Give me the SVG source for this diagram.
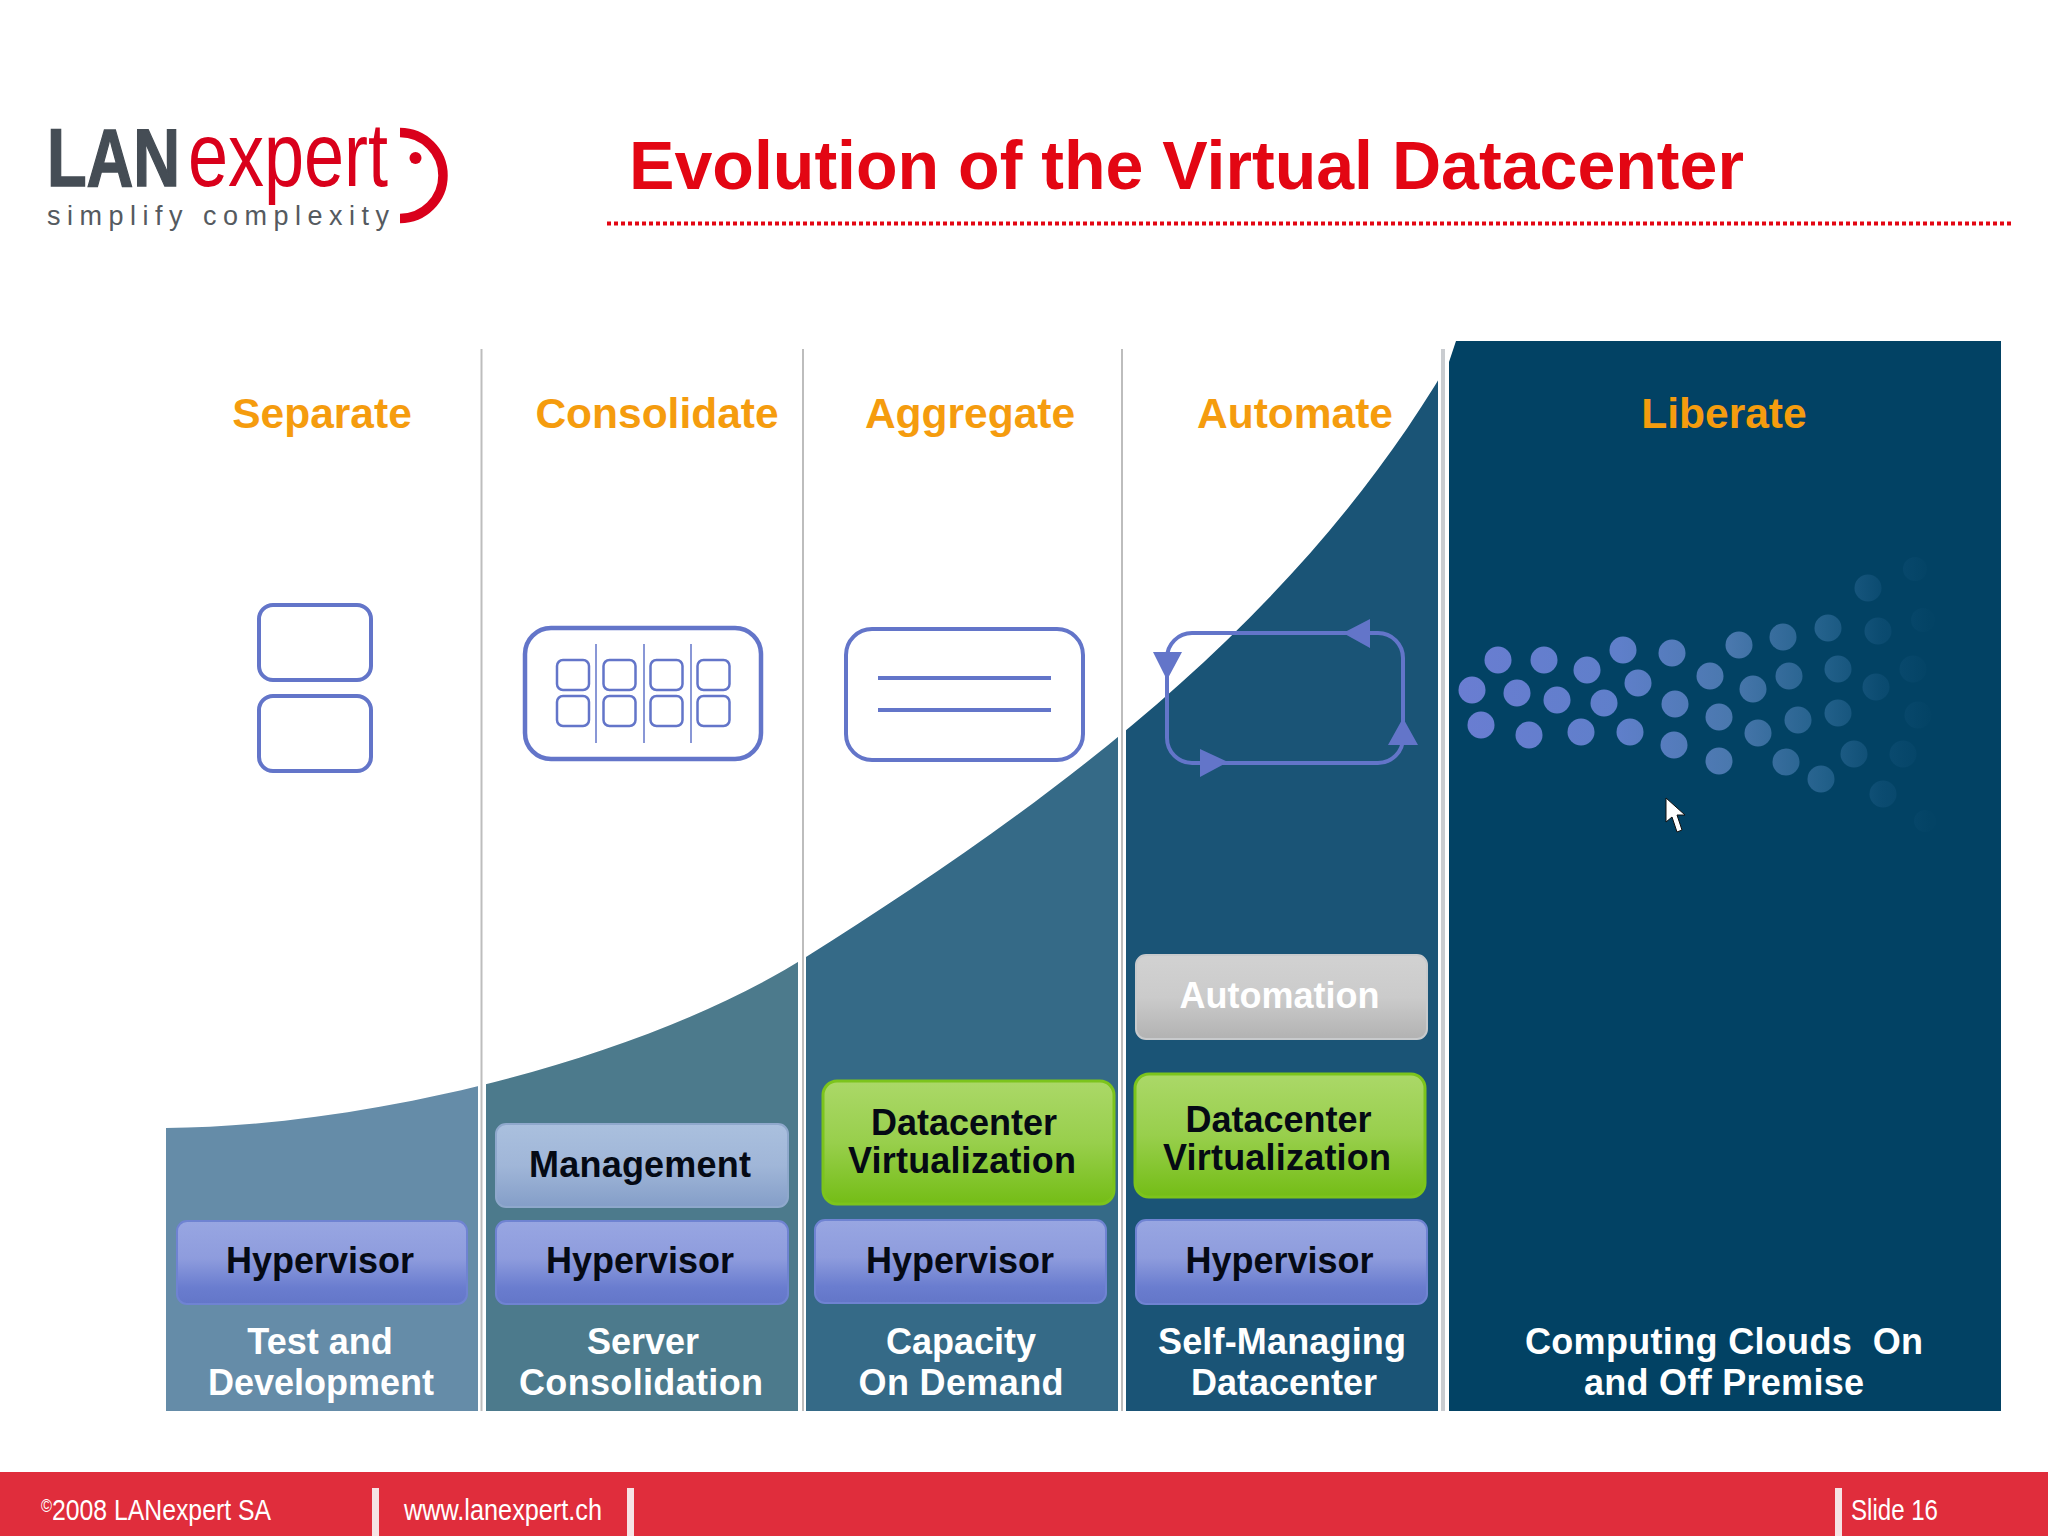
<svg xmlns="http://www.w3.org/2000/svg" width="2048" height="1536" viewBox="0 0 2048 1536">
<style>
text{font-family:"Liberation Sans",Arial,sans-serif}
.h{font-weight:700;font-size:42.5px;fill:#f59c0e;text-anchor:middle}
.b{font-weight:700;font-size:36px;fill:#050a14;text-anchor:middle}
.w{font-weight:700;font-size:36px;fill:#fff;text-anchor:middle;white-space:pre}
.f{font-size:30px;fill:#fff}
.hyp{fill:url(#gh);stroke:#6f83d2;stroke-width:2}
.mg{fill:url(#gm);stroke:#8fa8cc;stroke-width:2}
.dv{fill:url(#gd);stroke:#7cc41c;stroke-width:3}
.au{fill:url(#ga);stroke:#c8cacc;stroke-width:2}
.ic{fill:none;stroke:#6375c9;stroke-width:4}
.ar{fill:#6375c9}
.div{stroke:#bdbdbd;stroke-width:2}
.bar{fill:#f6e3e5}
</style>
<defs>
<linearGradient id="gh" x1="0" y1="0" x2="0" y2="1"><stop offset="0" stop-color="#98a6e2"/><stop offset=".45" stop-color="#8e9cdd"/><stop offset=".8" stop-color="#6a7dcf"/><stop offset="1" stop-color="#6376c8"/></linearGradient>
<linearGradient id="gm" x1="0" y1="0" x2="0" y2="1"><stop offset="0" stop-color="#aac0de"/><stop offset=".5" stop-color="#a0b6d8"/><stop offset="1" stop-color="#849ec8"/></linearGradient>
<linearGradient id="gd" x1="0" y1="0" x2="0" y2="1"><stop offset="0" stop-color="#abd868"/><stop offset=".5" stop-color="#98cf4c"/><stop offset="1" stop-color="#74bd16"/></linearGradient>
<linearGradient id="ga" x1="0" y1="0" x2="0" y2="1"><stop offset="0" stop-color="#d2d2d2"/><stop offset=".5" stop-color="#cbcbcb"/><stop offset="1" stop-color="#b2b2b2"/></linearGradient>
<linearGradient id="gdot" gradientUnits="userSpaceOnUse" x1="1450" y1="0" x2="1930" y2="0"><stop offset="0" stop-color="#6a7dd2"/><stop offset=".35" stop-color="#5f7fca"/><stop offset=".58" stop-color="#4a78ae"/><stop offset=".78" stop-color="#22608a"/><stop offset=".9" stop-color="#0b4b70"/><stop offset="1" stop-color="#034365"/></linearGradient>
<clipPath id="curve"><path d="M166,1128C360,1127 640,1062 806,957C1032,814 1302,627 1461,341H1438V1411H166Z"/></clipPath>
</defs>
<rect width="2048" height="1536" fill="#fff"/>
<g id="logo">
<text transform="translate(47,186) scale(.8,1)" font-size="81" font-weight="700" fill="#454d55" stroke="#454d55" stroke-width="1.500">LAN</text>
<text transform="translate(188,186) scale(.8,1)" font-size="90" fill="#d9001b">expert</text>
<text x="47" y="225" font-size="27" fill="#555a60" textLength="342" lengthAdjust="spacing">simplify complexity</text>
<path d="M400,132.5A43,43 0 0 1 400,218.5" fill="none" stroke="#d9001b" stroke-width="9.500"/>
<circle cx="415.500" cy="158" r="6" fill="#d9001b"/>
</g>
<g id="title">
<text x="629" y="189" font-size="68.100" font-weight="700" fill="#e30613">Evolution of the Virtual Datacenter</text>
<line x1="607" y1="223.500" x2="2012" y2="223.500" stroke="#e30613" stroke-width="4" stroke-dasharray="4 3"/>
</g>
<g id="bands">
<g clip-path="url(#curve)">
<rect x="166" y="341" width="312" height="1070" fill="#658ca8"/>
<rect x="486" y="341" width="312" height="1070" fill="#4c7a8c"/>
<rect x="806" y="341" width="312" height="1070" fill="#356a87"/>
<rect x="1126" y="341" width="312" height="1070" fill="#1a5476"/>
</g>
<path d="M1449,362L1456,341H2001V1411H1449Z" fill="#024264"/>
</g>
<g id="dividers">
<line class="div" x1="481.500" y1="349" x2="481.500" y2="1411"/>
<line class="div" x1="803" y1="349" x2="803" y2="1411"/>
<line class="div" x1="1122" y1="349" x2="1122" y2="1411"/>
<line x1="1443" y1="349" x2="1443" y2="1411" stroke="#c9ccd0" stroke-width="4"/>
</g>
<g id="col-separate">
<text class="h" x="322" y="428">Separate</text>
<g id="icon-separate" class="ic"><rect x="259" y="605" width="112" height="75" rx="14"/><rect x="259" y="696" width="112" height="75" rx="14"/></g>
<g id="hyp1"><rect class="hyp" x="177" y="1221" width="290" height="83" rx="10"/><text class="b" x="320" y="1273">Hypervisor</text></g>
<text class="w" x="320" y="1354">Test and</text>
<text class="w" x="321" y="1395">Development</text>
</g>
<g id="col-consolidate">
<text class="h" x="657" y="428">Consolidate</text>
<g id="icon-consolidate" class="ic">
<rect x="525" y="628" width="236" height="131" rx="26" stroke-width="4.500"/>
<g stroke-width="2.500">
<rect x="557" y="660" width="32" height="30" rx="6"/><rect x="603.500" y="660" width="32" height="30" rx="6"/><rect x="650.500" y="660" width="32" height="30" rx="6"/><rect x="697.500" y="660" width="32" height="30" rx="6"/>
<rect x="557" y="696" width="32" height="30" rx="6"/><rect x="603.500" y="696" width="32" height="30" rx="6"/><rect x="650.500" y="696" width="32" height="30" rx="6"/><rect x="697.500" y="696" width="32" height="30" rx="6"/>
</g>
<path d="M596,644V743M644,644V743M691,644V743" stroke-width="1.500"/>
</g>
<g id="mgmt"><rect class="mg" x="496" y="1124" width="292" height="83" rx="10"/><text class="b" x="640" y="1177" textLength="222">Management</text></g>
<g id="hyp2"><rect class="hyp" x="496" y="1221" width="292" height="83" rx="10"/><text class="b" x="640" y="1273">Hypervisor</text></g>
<text class="w" x="643" y="1354">Server</text>
<text class="w" x="641" y="1395" textLength="244">Consolidation</text>
</g>
<g id="col-aggregate">
<text class="h" x="970" y="428">Aggregate</text>
<g id="icon-aggregate" class="ic"><rect x="846" y="629" width="237" height="131" rx="26"/><path d="M878,678H1051M878,710H1051"/></g>
<g id="dv3"><rect class="dv" x="823" y="1081" width="291" height="123" rx="14"/><text class="b" x="964" y="1135">Datacenter</text><text class="b" x="962" y="1173" textLength="228">Virtualization</text></g>
<g id="hyp3"><rect class="hyp" x="815" y="1220" width="291" height="83" rx="10"/><text class="b" x="960" y="1273">Hypervisor</text></g>
<text class="w" x="961" y="1354">Capacity</text>
<text class="w" x="961" y="1395" textLength="205">On Demand</text>
</g>
<g id="col-automate">
<text class="h" x="1295" y="428">Automate</text>
<g id="icon-automate">
<rect class="ic" x="1167" y="633" width="236" height="130" rx="25"/>
<path class="ar" d="M1153,652H1182L1167,680ZM1343,633L1370,619V648ZM1403,718L1418,745H1388ZM1228,762L1200,777V749Z"/>
</g>
<g id="automation"><rect class="au" x="1136" y="955" width="291" height="84" rx="10"/><text class="w" x="1279.500" y="1008">Automation</text></g>
<g id="dv4"><rect class="dv" x="1135" y="1074" width="290" height="123" rx="14"/><text class="b" x="1278.500" y="1132">Datacenter</text><text class="b" x="1277" y="1170" textLength="228">Virtualization</text></g>
<g id="hyp4"><rect class="hyp" x="1136" y="1220" width="291" height="84" rx="10"/><text class="b" x="1279.500" y="1273">Hypervisor</text></g>
<text class="w" x="1282" y="1354" textLength="248">Self-Managing</text>
<text class="w" x="1284" y="1395">Datacenter</text>
</g>
<g id="col-liberate">
<text class="h" x="1724" y="428">Liberate</text>
<g id="icon-liberate" fill="url(#gdot)">
<circle cx="1472" cy="690" r="13.500"/><circle cx="1498" cy="660" r="13.500"/><circle cx="1544" cy="660" r="13.500"/><circle cx="1517" cy="693" r="13.500"/><circle cx="1557" cy="700" r="13.500"/><circle cx="1587" cy="670" r="13.500"/><circle cx="1481" cy="725" r="13.500"/><circle cx="1529" cy="735" r="13.500"/><circle cx="1581" cy="732" r="13.500"/><circle cx="1630" cy="732" r="13.500"/><circle cx="1623" cy="650" r="13.500"/><circle cx="1672" cy="653" r="13.500"/><circle cx="1638" cy="683" r="13.500"/><circle cx="1604" cy="703" r="13.500"/><circle cx="1675" cy="704" r="13.500"/><circle cx="1674" cy="745" r="13.500"/><circle cx="1710" cy="676" r="13.500"/><circle cx="1739" cy="645" r="13.500"/><circle cx="1783" cy="637" r="13.500"/><circle cx="1753" cy="689" r="13.500"/><circle cx="1789" cy="676" r="13.500"/><circle cx="1719" cy="717" r="13.500"/><circle cx="1719" cy="761" r="13.500"/><circle cx="1758" cy="733" r="13.500"/><circle cx="1786" cy="762" r="13.500"/><circle cx="1798" cy="720" r="13.500"/><circle cx="1828" cy="628" r="13.500"/><circle cx="1838" cy="669" r="13.500"/><circle cx="1838" cy="713" r="13.500"/><circle cx="1821" cy="779" r="13.500"/><circle cx="1854" cy="754" r="13.500"/><circle cx="1878" cy="631" r="13.500"/><circle cx="1876" cy="687" r="13.500"/><circle cx="1883" cy="794" r="13.500"/><circle cx="1903" cy="754" r="13.500"/><circle cx="1868" cy="588" r="13.500"/><circle cx="1913" cy="669" r="13.500"/><circle cx="1918" cy="715" r="13.500"/><circle cx="1925" cy="821" r="11"/><circle cx="1923" cy="620" r="12"/><circle cx="1915" cy="569" r="12"/>
</g>
<path id="cursor" d="M1666,798V822L1672,817L1677,832L1682,830L1677,815L1685,815Z" fill="#fff" stroke="#111" stroke-width="1"/>
<text class="w" x="1724" y="1354" textLength="398">Computing Clouds  On</text>
<text class="w" x="1724" y="1395" textLength="280">and Off Premise</text>
</g>
<g id="footer">
<rect x="0" y="1472" width="2048" height="64" fill="#e02d3c"/>
<rect class="bar" x="372" y="1488" width="7" height="48"/><rect class="bar" x="627" y="1488" width="7" height="48"/><rect class="bar" x="1835" y="1488" width="7" height="48"/>
<text class="f" x="41" y="1520" textLength="230" lengthAdjust="spacingAndGlyphs"><tspan font-size="18" dy="-8">©</tspan><tspan dy="8">2008 LANexpert SA</tspan></text>
<text class="f" x="404" y="1520" textLength="198" lengthAdjust="spacingAndGlyphs">www.lanexpert.ch</text>
<text class="f" x="1851" y="1520" textLength="87" lengthAdjust="spacingAndGlyphs">Slide 16</text>
</g>
</svg>
